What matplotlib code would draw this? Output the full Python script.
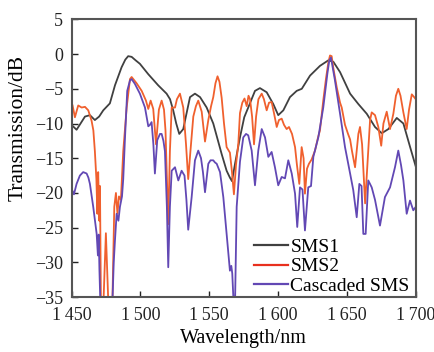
import matplotlib
matplotlib.use("Agg")
import matplotlib.pyplot as plt

plt.rcParams['font.family'] = ['Liberation Serif', 'DejaVu Serif']
plt.rcParams['axes.unicode_minus'] = True

# ---- data ----
sms1_x = [1450, 1451, 1453.6, 1456.5, 1459.7, 1463.3, 1466.9, 1470, 1473, 1477.8, 1481.5, 1486.3,
          1489, 1491.1, 1493.6, 1496.5, 1499.6, 1505.7, 1512.9, 1519, 1521.5, 1523.8, 1526, 1528.2,
          1531.1, 1533, 1536, 1539.6, 1543.3, 1548.1, 1552.9, 1559, 1562.6, 1565, 1566.5, 1568.7,
          1572.3, 1575.4, 1578.3, 1583.2, 1586.8, 1591.7, 1596.5, 1600.1, 1603.8, 1608.6, 1613.5,
          1617.2, 1623.2, 1630.4, 1636.5, 1640.1, 1645, 1652.3, 1658.3, 1664.4, 1670.4, 1675.3,
          1680.1, 1686.2, 1691, 1695.9, 1700]
sms1_y = [-10.2, -10.4, -10.9, -10, -9.0, -8.8, -9.5, -9.0, -8.1, -7.1, -4.5, -1.9,
          -0.8, -0.3, -0.4, -0.9, -1.4, -2.9, -4.5, -5.7, -6.5, -8.1, -10, -11.5,
          -10.8, -9, -6.2, -5.7, -6.2, -7.7, -10, -14.4, -16.8, -17.8, -18.3, -15.8,
          -12, -9.1, -7.7, -5.3, -4.9, -5.5, -7.2, -8.8, -8.1, -6.2, -5.3,
          -5.0, -3.1, -1.7, -0.9, -1.1, -2.6, -5.7, -7.2, -8.6, -10.5, -11.4,
          -10.8, -9.2, -10, -13.4, -16.2]

sms2_x = [1450.7, 1452.4, 1454.8, 1457.3, 1459.7, 1462.1, 1464.5, 1465.8, 1466.9, 1468, 1468.7,
          1469.3, 1470.1, 1470.6, 1471.3, 1473.1, 1474.9, 1476.7, 1479.6, 1481, 1482.2, 1483.3,
          1484.4, 1485.8, 1487.5, 1490, 1492.4, 1493.6, 1497.2, 1500.9, 1504, 1505.7, 1507.4,
          1509.3, 1511.3, 1513.4, 1515.4, 1517.1, 1518.2, 1520.2, 1521.4, 1522.7, 1525.1, 1526.5,
          1528.7, 1531.1, 1533.1, 1534.7, 1536.3, 1538.4, 1540.3, 1542, 1544.5, 1546.9, 1549.3,
          1551.3, 1552.9, 1554.5, 1556, 1557.4, 1559, 1560.7, 1562.6, 1565, 1566.5, 1567.9,
          1569.4, 1571.1, 1572.3, 1574, 1575.6, 1577.2, 1578.5, 1579.6, 1581.1, 1582.5, 1584,
          1585.7, 1588.1, 1589.7, 1591.7, 1593.4, 1595.3, 1597, 1599, 1600.6, 1602.6, 1604.3,
          1606.2, 1607.9, 1610.1, 1612.3, 1613.7, 1615.4, 1617.1, 1618.5, 1619.5, 1621, 1622.4,
          1624.3, 1626.8, 1629, 1630.4, 1632.8, 1634.8, 1636.5, 1637.7, 1638.9, 1640.1, 1642.6,
          1645, 1646.2, 1648.6, 1650.8, 1652.3, 1653.7, 1655.9, 1658.3, 1659.5, 1661, 1663.2,
          1665.5, 1666.8, 1668, 1670.4, 1672.8, 1674.9, 1676.5, 1678.9, 1681.3, 1683.7, 1685.6,
          1687.3, 1688.9, 1691, 1693.4, 1695.1, 1697.1, 1698.4, 1700]
sms2_y = [-7.4, -9.1, -7.4, -7.7, -7.6, -8.1, -9.6, -11, -14, -18, -23,
          -17, -24, -19, -36, -36, -25.8, -36, -36, -22, -20, -23,
          -20.5, -21, -14, -7.7, -3.6, -3.3, -4.2, -5.3, -6.7, -7.9, -6.7,
          -7.9, -13, -8, -6.7, -8, -11, -24.5, -14, -7.7, -7.7, -6.5,
          -5.7, -7.7, -13, -18, -14, -9, -7.5, -6.7, -8.3, -12.6, -9.5,
          -7.5, -6.2, -4.2, -3.2, -4, -6.3, -10, -13.4, -14.2, -17, -20.2,
          -16, -12.9, -8.5, -7, -6.4, -7.5, -6, -6.5, -9, -13, -9,
          -6.5, -5.7, -6.5, -8.1, -7, -6.9, -8.5, -10.5, -9.5, -9.3, -10.2,
          -10.8, -10.5, -11.5, -13.4, -16, -18.7, -13.4, -15, -20.1, -16.5, -15.8,
          -15.2, -13.9, -12, -11, -6.7, -3.5, -1.2, -0.2, -0.3, -2, -4.8,
          -7, -7.7, -10.2, -11.5, -12.3, -14, -16.3, -11.5, -10.5, -13, -21.5,
          -13.9, -9.5, -8.4, -8.8, -10.5, -13.2, -10, -8.3, -10.8, -8.6, -6,
          -5, -6, -8.4, -10.8, -8, -5.8, -6.1, -6.5]

cas_x = [1450.2, 1451.7, 1453.6, 1456, 1458.4, 1460.9, 1462.2, 1463.3, 1465.7, 1468.2, 1469.1,
         1469.7, 1470.2, 1470.9, 1479.6, 1480.6, 1481.5, 1482.7, 1484, 1485.1, 1486.6, 1487.5,
         1488.7, 1490.4, 1492.4, 1493.6, 1496, 1499.6, 1503.3, 1505.7, 1506.9, 1508.1, 1509.4,
         1510.5, 1512.2, 1514.2, 1515.4, 1516.7, 1517.8, 1519.2, 1520.2, 1521.4, 1522.7, 1525.1,
         1527.5, 1529.9, 1532, 1533.4, 1534.7, 1537.2, 1539.6, 1542, 1544, 1545.4, 1546.9,
         1549.3, 1550.9, 1552.9, 1554.1, 1555.4, 1557.8, 1560.2, 1562.6, 1565, 1566, 1566.7,
         1567.7, 1568.7, 1569.9, 1572.3, 1574.7, 1576.7, 1578.3, 1580.8, 1583.2, 1585.6, 1588.1,
         1590.5, 1592.9, 1595.3, 1597.7, 1600.1, 1602.6, 1605, 1607.4, 1609.9, 1612.3, 1613.9,
         1615.9, 1617.7, 1619.5, 1621.9, 1623.9, 1625.6, 1629.2, 1632.8, 1635.8, 1637.2, 1638.4,
         1641.3, 1645, 1648.6, 1652.3, 1654.6, 1657.1, 1659, 1660.6, 1661.9, 1663.6, 1665.5,
         1668, 1670.4, 1674, 1677.6, 1681.3, 1684.9, 1687.3, 1689.3, 1691, 1693.4, 1695.8,
         1698.2, 1700]
cas_y = [-19.5, -20.2, -18.7, -17.5, -17, -17.2, -17.8, -18.7, -22, -25.9, -29,
         -26, -31, -36, -36, -30, -26.8, -23, -24, -22, -20.5, -18,
         -12.4, -5.3, -3.8, -3.6, -4.3, -5.7, -7.7, -10.4, -10.2, -9.8, -13,
         -17.2, -12.4, -11.5, -11.5, -12.5, -14, -22, -30.7, -22, -16.8, -16.3,
         -18.2, -16.8, -17.5, -21, -25.3, -20.6, -15.3, -13.9, -15, -17, -19.9,
         -15.8, -15.3, -15.3, -15.6, -15.8, -17, -20.6, -25.9, -31.2, -30.5, -31.6,
         -36, -36, -22, -15.5, -12, -11.5, -11.7, -13.9, -18.9, -13.9, -10.8,
         -12, -14.8, -14.1, -16.3, -18.9, -17.7, -17.9, -15.3, -17.2, -20.1, -24.9,
         -19.2, -19.5, -25.4, -19.2, -19, -14.8, -12, -7.7, -2.8, -0.9, -0.5,
         -3.8, -8.6, -13.4, -17.2, -19.6, -23.5, -18.7, -19, -25.9, -25.9, -18.2,
         -19.2, -21, -24.7, -20.6, -19.2, -16.3, -13.9, -16, -18.2, -23, -21.1,
         -22.5, -22]

x_ticks = [1450, 1500, 1550, 1600, 1650, 1700]
x_tick_labels = ["1\u2009450", "1\u2009500", "1\u2009550", "1\u2009600", "1\u2009650", "1\u2009700"]
y_ticks = [5, 0, -5, -10, -15, -20, -25, -30, -35]

# ---- figure ----
fig = plt.figure(figsize=(4.34, 3.52), dpi=100)
ax = fig.add_axes([0.165, 0.156, 0.793, 0.789])

ax.plot(sms1_x, sms1_y, color='#404040', lw=1.3, label='SMS1')
ax.plot(sms2_x, sms2_y, color='#f0602e', lw=1.3, label='SMS2')
ax.plot(cas_x, cas_y, color='#6248b4', lw=1.3, label='Cascaded SMS')

ax.set_xlim(1450, 1700)
ax.set_ylim(-35, 5)
ax.set_xticks(x_ticks)
ax.set_xticklabels(x_tick_labels)
ax.set_yticks(y_ticks)
ax.tick_params(direction='in', length=4, width=1, labelsize=13, colors='#222222')
ax.tick_params(axis='y', pad=6)
ax.tick_params(axis='x', pad=7)

for s in ax.spines.values():
    s.set_color('#555555')
    s.set_linewidth(1.5)

ax.set_xlabel('Wavelength/nm', fontsize=14.5, labelpad=4)
ax.set_ylabel('Transmission/dB', fontsize=15.5)
ax.yaxis.set_label_coords(-0.128, 0.61)

legend_colors = ['#404040', '#e8301e', '#6248b4']
leg = ax.legend(loc='lower right', frameon=False, fontsize=14, handlelength=1.7,
                handletextpad=0.15, labelspacing=0.1, borderaxespad=0.0,
                bbox_to_anchor=(1.005, -0.02))
for line, c in zip(leg.get_lines(), legend_colors):
    line.set_color(c)
    line.set_linewidth(1.6)

fig.savefig('out.png', dpi=100)
